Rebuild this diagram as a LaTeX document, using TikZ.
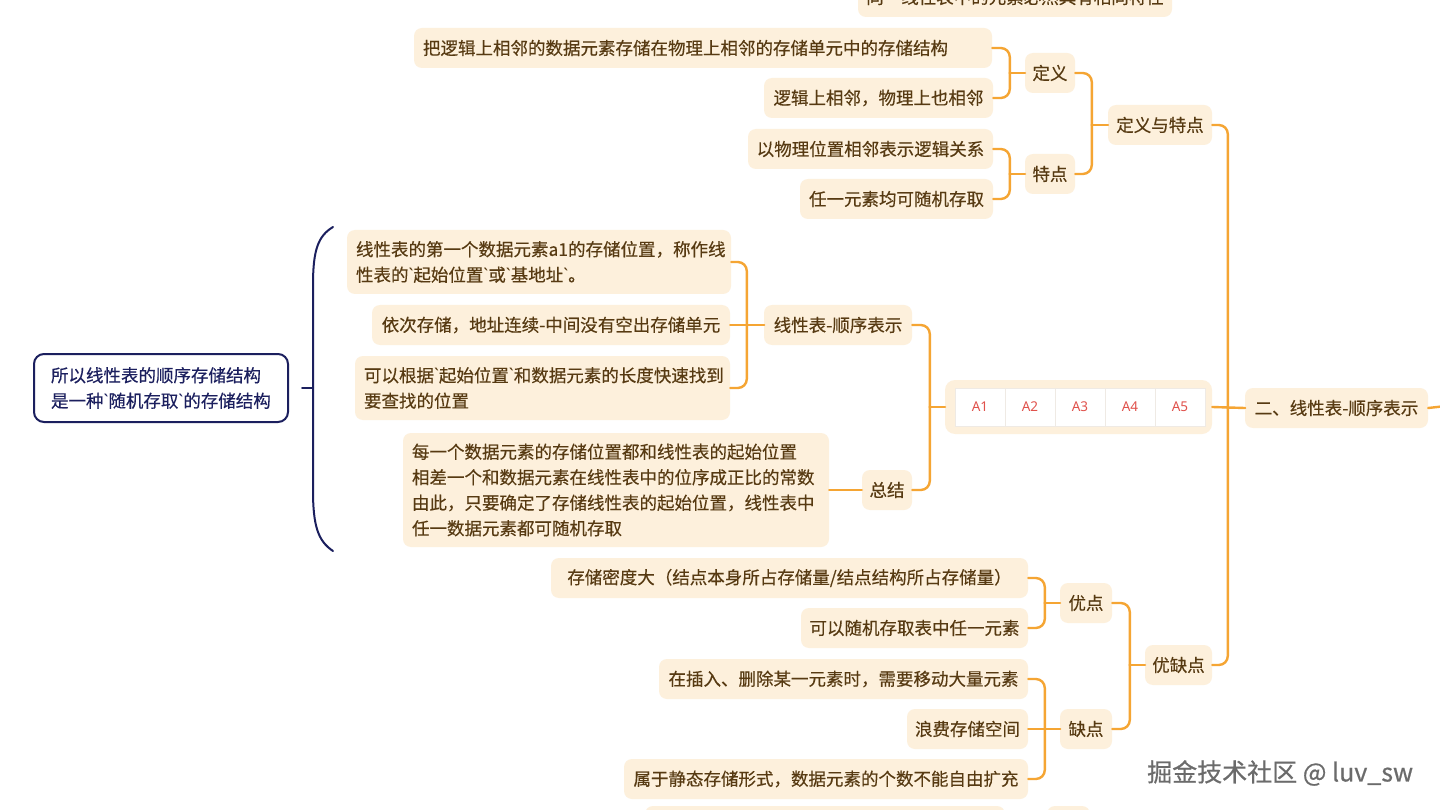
\documentclass[tikz,border=0pt]{standalone}
\usepackage{fontspec}
\newfontfamily\cjk[FakeBold=0.35]{Noto Sans CJK SC}
\newfontfamily\wmf[FakeBold=0.6]{Noto Sans CJK SC}
\newfontfamily\latf{Noto Sans}
\newcommand{\bq}{{\latf`}}
\definecolor{nodefill}{HTML}{FDF0DC}
\definecolor{txt}{HTML}{573A12}
\definecolor{org}{HTML}{F5A533}
\definecolor{navy}{HTML}{1B1F5E}
\definecolor{cellred}{HTML}{E0524C}
\definecolor{cellline}{HTML}{EFEAE4}
\begin{document}
\begin{tikzpicture}[x=1pt,y=-1pt,
  box/.style={fill=nodefill, rounded corners=8pt, text=txt, font=\cjk\fontsize{17.5}{25.5}\selectfont, inner sep=0pt, minimum height=40pt},
  mbox/.style={box, align=left},
  conn/.style={draw=org, line width=2.4pt, rounded corners=9pt, line cap=round},
  cell/.style={fill=white, draw=cellline, line width=0.8pt, minimum width=50pt, minimum height=38pt, inner sep=0pt, text=cellred, font=\latf\fontsize{13.5}{13.5}\selectfont},
]
\useasboundingbox (0,0) rectangle (1440,810);
\clip (0,0) rectangle (1440,810);
\fill[white] (0,0) rectangle (1440,810);

% ---- nodes ----
\node[box, minimum width=314pt] (top) at (1015,-3) {同一线性表中的元素必然具有相同特性};
\node[mbox, minimum width=578pt, text width=560pt] (def1) at (703,48) {把逻辑上相邻的数据元素存储在物理上相邻的存储单元中的存储结构};
\node[box, minimum width=229pt] (def2) at (878.5,98) {逻辑上相邻，物理上也相邻};
\node[box, minimum width=50pt] (dingyi) at (1050,73) {定义};
\node[box, minimum width=245pt] (feat1) at (870.5,149) {以物理位置相邻表示逻辑关系};
\node[box, minimum width=193pt] (feat2) at (896.5,199) {任一元素均可随机存取};
\node[box, minimum width=50pt] (tedian) at (1050,174) {特点};
\node[box, minimum width=104pt] (dytd) at (1160,125) {定义与特点};
\node[box, minimum width=183pt] (root) at (1336.5,408) {二、线性表-顺序表示};
\coordinate (rootout) at (1446,406);
\coordinate (topout) at (1190,-30);

% array
\node[fill=nodefill, rounded corners=10pt, minimum width=267pt, minimum height=54pt, inner sep=0pt] (arr) at (1078.5,407) {};
\node[cell] (a1) at (980,407) {A1};
\node[cell] (a2) at (1030,407) {A2};
\node[cell] (a3) at (1080,407) {A3};
\node[cell] (a4) at (1130,407) {A4};
\node[cell] (a5) at (1180,407) {A5};

\node[box, minimum width=148pt] (xxsx) at (838,325) {线性表-顺序表示};
\node[mbox, minimum width=384pt, minimum height=64pt, text width=366pt] (l1) at (539,262) {线性表的第一个数据元素a1的存储位置，称作线\\性表的\bq 起始位置\bq 或\bq 基地址\bq 。};
\node[box, minimum width=358pt] (l2) at (551,325) {依次存储，地址连续-中间没有空出存储单元};
\node[mbox, minimum width=375pt, minimum height=64pt, text width=357pt] (l3) at (542.5,388) {可以根据\bq 起始位置\bq 和数据元素的长度快速找到\\要查找的位置};
\node[box, minimum width=50pt] (zj) at (887,490) {总结};
\node[mbox, minimum width=426pt, minimum height=114pt, text width=408pt] (sum) at (616,490) {每一个数据元素的存储位置都和线性表的起始位置\\相差一个和数据元素在线性表中的位序成正比的常数\\由此，只要确定了存储线性表的起始位置，线性表中\\任一数据元素都可随机存取};

\node[box, minimum width=67pt] (ydq) at (1178.5,665) {优缺点};
\node[box, minimum width=52pt] (yd) at (1086,603) {优点};
\node[box, minimum width=477pt] (pro1) at (789.5,578) {存储密度大（结点本身所占存储量/结点结构所占存储量）};
\node[box, minimum width=227pt] (pro2) at (914.5,628) {可以随机存取表中任一元素};
\node[box, minimum width=52pt] (qd) at (1086,729) {缺点};
\node[box, minimum width=369pt] (con1) at (843.5,679) {在插入、删除某一元素时，需要移动大量元素};
\node[box, minimum width=121pt] (con2) at (967.5,729) {浪费存储空间};
\node[box, minimum width=404pt] (con3) at (826,779) {属于静态存储形式，数据元素的个数不能自由扩充};
\node[box, minimum width=360pt] (bot1) at (825,826) {};
\node[box, minimum width=43pt] (bot2) at (1068.5,826) {};

% left summary box
\node[draw=navy, line width=2pt, fill=white, rounded corners=10pt, text=navy, align=left,
      font=\cjk\fontsize{17.5}{25.5}\selectfont, minimum width=254pt, minimum height=68pt,
      text width=220pt, inner sep=0pt] (concl) at (161,388) {所以线性表的顺序存储结构\\是一种\bq 随机存取\bq 的存储结构};
\coordinate (brtip) at (302,388);
\coordinate (brmid) at (313,388);
\coordinate (brtop) at (333,227);
\coordinate (brbot) at (333,551);
\draw[navy, line width=2pt, line cap=round] (brtip) -- (brmid);
\draw[navy, line width=2pt, line cap=round] (brtop) .. controls (318,236) and (313,250) .. (313,285) -- (313,490) .. controls (313,526) and (318,541) .. (brbot);

% watermark
\node[anchor=west, text=white, font=\wmf\fontsize{25}{25}\selectfont, inner sep=0pt] (wmshadow) at (1148.5,774.5) {掘金技术社区 @ luv\_sw};
\node[anchor=west, text=black!58, font=\wmf\fontsize{25}{25}\selectfont, inner sep=0pt] (wm) at (1147,773) {掘金技术社区 @ luv\_sw};

% ---- connectors ----
\newcommand{\conn}[3]{%
  \draw[conn] (#1.east) -| ([xshift=-#3pt]#2.west);
  \draw[conn, sharp corners] ([xshift=-#3pt]#2.west) -- (#2.west);}
\newcommand{\connS}[2]{\draw[conn, sharp corners] (#1.east) -- (#2.west);}
\conn{def1}{dingyi}{15}
\conn{def2}{dingyi}{15}
\conn{feat1}{tedian}{15}
\conn{feat2}{tedian}{15}
\conn{dingyi}{dytd}{16}
\conn{tedian}{dytd}{16}
\conn{dytd}{root}{17}
\connS{arr}{root}
\conn{ydq}{root}{17}
\conn{l1}{xxsx}{17}
\connS{l2}{xxsx}
\conn{l3}{xxsx}{17}
\conn{xxsx}{arr}{15}
\conn{zj}{arr}{15}
\connS{sum}{zj}
\conn{yd}{ydq}{15}
\conn{qd}{ydq}{15}
\conn{pro1}{yd}{15}
\conn{pro2}{yd}{15}
\conn{con1}{qd}{15}
\connS{con2}{qd}
\conn{con3}{qd}{15}
\draw[conn] (root.east) -- (rootout);
\draw[conn] (top.east) -| (topout);
\end{tikzpicture}
\end{document}
